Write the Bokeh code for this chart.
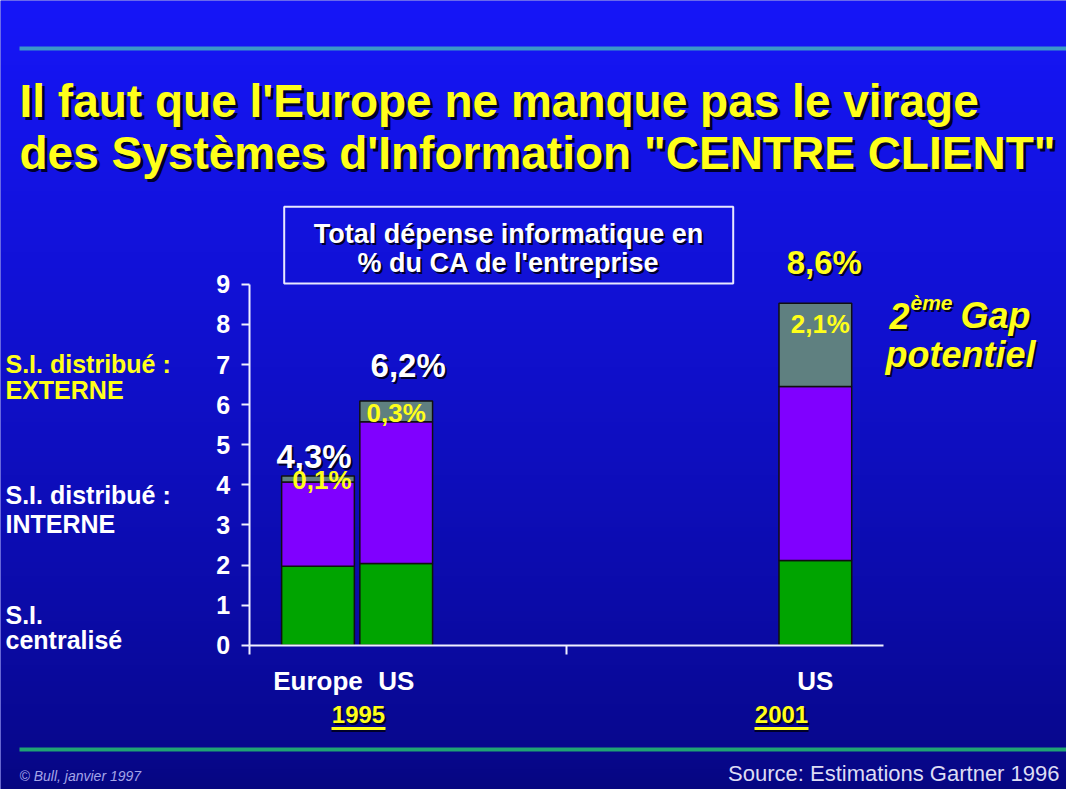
import numpy as np
from bokeh.plotting import figure
from bokeh.models import LinearAxis, FixedTicker, Range1d, ColumnDataSource
from bokeh.core.properties import value
from bokeh.embed import file_html
from bokeh.resources import INLINE

# ---------------- data ----------------
regions = ["Europe", "US", "US"]
years = ["1995", "1995", "2001"]
si_centralise = [1.97, 2.04, 2.11]
si_interne = [2.10, 3.53, 4.34]
si_externe = [0.15, 0.52, 2.08]
total_labels = ["4,3%", "6,2%", "8,6%"]
externe_labels = ["0,1%", "0,3%", "2,1%"]
y_tick_values = [0, 1, 2, 3, 4, 5, 6, 7, 8, 9]
title_lines = ["Il faut que l'Europe ne manque pas le virage",
               "des Systèmes d'Information \"CENTRE CLIENT\""]
box_lines = ["Total dépense informatique en", "% du CA de l'entreprise"]
series_labels = [("S.I. distribué  :", "EXTERNE"),
                 ("S.I. distribué :", "INTERNE"),
                 ("S.I.", "centralisé")]
year_labels = ["1995", "2001"]
gap_text = ("2", "ème", "Gap", "potentiel")
footer_left = "© Bull, janvier 1997"
footer_right = "Source: Estimations Gartner 1996"

# ---------------- layout ----------------
W, H = 1066, 789
PAGE = 8
ZERO_PX = 652.7      # page y of value 0
UNIT_PX = 40.1       # px per value unit
ORIGIN_X = 325.5     # page x of first bar slot
SLOT_PX = 78.2       # px per bar slot
GROUP_OFFSET = {"1995": 0.0, "2001": 6.36}
BAR_W = 0.93
FONT = "Liberation Sans"
YELLOW = "#ffff1a"
SHADOW = "#00002a"
BASE_CORR = 0.3      # visual baseline correction (fraction of font size)


def dx(px):
    return (px - ORIGIN_X) / SLOT_PX


def dy(py):
    return (ZERO_PX - py) / UNIT_PX


def tb(py, size):
    """data y for a text whose visual baseline should sit at page y `py`."""
    return dy(py - BASE_CORR * size)


xs = []
seen = {}
for yr in years:
    k = seen.get(yr, 0)
    xs.append(GROUP_OFFSET[yr] + k)
    seen[yr] = k + 1

top1 = list(si_centralise)
top2 = [a + b for a, b in zip(top1, si_interne)]
top3 = [a + b for a, b in zip(top2, si_externe)]

x0, x1 = dx(PAGE), dx(PAGE + W)
y0, y1 = dy(PAGE + H), dy(PAGE)

p = figure(width=W, height=H, x_range=Range1d(x0, x1), y_range=Range1d(y0, y1),
           output_backend="svg", toolbar_location=None,
           x_axis_type=None, y_axis_type=None, min_border=0,
           outline_line_color=None)
p.background_fill_color = "#1010d0"
p.border_fill_color = "#1010d0"

# background gradient
n = 400
t = np.linspace(0.0, 1.0, n) ** 0.75   # 0 bottom -> 1 top
top_c = np.array([22, 22, 248])
bot_c = np.array([6, 6, 128])
img = np.zeros((n, 1), dtype=np.uint32)
view = img.view(dtype=np.uint8).reshape((n, 1, 4))
for i in range(3):
    view[:, 0, i] = (bot_c[i] + (top_c[i] - bot_c[i]) * t).astype(np.uint8)
view[:, 0, 3] = 255
p.image_rgba(image=[img], x=x0, y=y0, dw=x1 - x0, dh=y1 - y0)


def txt(x, py, s, size, color, align="left", style="bold", shadow=None, font=FONT):
    y = tb(py, size)
    fs = f"{size}px"
    if shadow:
        p.text(x=[x], y=[y], text=[s], text_font=value(font), text_font_size=fs,
               text_font_style=style, text_color=SHADOW, text_align=align,
               text_baseline="alphabetic", x_offset=shadow, y_offset=shadow)
    p.text(x=[x], y=[y], text=[s], text_font=value(font), text_font_size=fs,
           text_font_style=style, text_color=color, text_align=align,
           text_baseline="alphabetic")


# separator lines
p.segment(x0=[dx(27)], y0=[dy(56)], x1=[dx(1078)], y1=[dy(56)],
          line_color="#3c98c8", line_width=4)
p.segment(x0=[dx(27)], y0=[dy(757)], x1=[dx(1078)], y1=[dy(757)],
          line_color="#20a274", line_width=4)

# title
txt(dx(27), 122, title_lines[0], 46, YELLOW, shadow=3)
txt(dx(27), 174, title_lines[1], 46, YELLOW, shadow=3)

# box
p.quad(left=[dx(291.7)], right=[dx(740.7)], top=[dy(214.3)], bottom=[dy(291)],
       fill_color=None, line_color="#e8e8ff", line_width=2)
txt(dx(516), 250, box_lines[0], 27, "white", align="center", shadow=2)
txt(dx(516), 279, box_lines[1], 27, "white", align="center", shadow=2)

# bars
src = ColumnDataSource(dict(x=xs, b0=[0] * len(xs), t1=top1, t2=top2, t3=top3))
p.vbar(x="x", width=BAR_W, bottom="b0", top="t1", source=src,
       fill_color="#00a400", line_color="#101010", line_width=1.5)
p.vbar(x="x", width=BAR_W, bottom="t1", top="t2", source=src,
       fill_color="#8000ff", line_color="#101010", line_width=1.5)
p.vbar(x="x", width=BAR_W, bottom="t2", top="t3", source=src,
       fill_color="#5f8080", line_color="#101010", line_width=1.5)

# axes
axis_x0, axis_x1 = dx(256.7), dx(890.7)
yax = LinearAxis(fixed_location=axis_x0, ticker=FixedTicker(ticks=y_tick_values),
                 bounds=(0, 9))
yax.axis_line_color = "#f0f0ff"
yax.axis_line_width = 2
yax.major_tick_line_color = "#f0f0ff"
yax.major_tick_line_width = 2
yax.major_tick_out = 8
yax.major_tick_in = 0
yax.minor_tick_out = 0
yax.minor_tick_in = 0
yax.major_label_text_color = "white"
yax.major_label_text_font = FONT
yax.major_label_text_font_size = "25px"
yax.major_label_text_font_style = "bold"
yax.major_label_standoff = 11
p.add_layout(yax, "left")

xax = LinearAxis(fixed_location=0,
                 ticker=FixedTicker(ticks=xs, minor_ticks=[axis_x0, (axis_x0 + axis_x1) / 2]),
                 bounds=(axis_x0, axis_x1))
xax.major_label_overrides = {float(x): r for x, r in zip(xs, regions)}
xax.axis_line_color = "#f0f0ff"
xax.axis_line_width = 2
xax.major_tick_out = 0
xax.major_tick_in = 0
xax.minor_tick_out = 9
xax.minor_tick_in = 0
xax.minor_tick_line_color = "#f0f0ff"
xax.minor_tick_line_width = 2
xax.major_label_text_color = "white"
xax.major_label_text_font = FONT
xax.major_label_text_font_size = "26px"
xax.major_label_text_font_style = "bold"
xax.major_label_standoff = 12
p.add_layout(xax, "below")

# value labels (screen px offsets relative to top of stack)
TOT_SIZE, EXT_SIZE = 33, 26
tdy = [-19, -35, -41]
edy = [4, 12, 21]
src_lab = ColumnDataSource(dict(
    x=xs, t3=top3, total=total_labels, ext=externe_labels,
    tcol=["white", "white", YELLOW],
    tdx=[-4, 12, 9], tdy=tdy,
    sdx=[-2, 14, 11], sdy=[v + 2 for v in tdy],
    edx=[4, 0, 5], edy=edy))
p.text(x="x", y="t3", text="total", source=src_lab, text_font=value(FONT),
       text_font_size=f"{TOT_SIZE}px", text_font_style="bold", text_color=SHADOW,
       text_align="center", text_baseline="alphabetic", x_offset="sdx", y_offset="sdy")
p.text(x="x", y="t3", text="total", source=src_lab, text_font=value(FONT),
       text_font_size=f"{TOT_SIZE}px", text_font_style="bold", text_color="tcol",
       text_align="center", text_baseline="alphabetic", x_offset="tdx", y_offset="tdy")
p.text(x="x", y="t3", text="ext", source=src_lab, text_font=value(FONT),
       text_font_size=f"{EXT_SIZE}px", text_font_style="bold", text_color=YELLOW,
       text_align="center", text_baseline="alphabetic", x_offset="edx", y_offset="edy")

# series labels (left)
txt(dx(13), 379, series_labels[0][0], 25, YELLOW)
txt(dx(13), 405, series_labels[0][1], 25, YELLOW)
txt(dx(13), 510, series_labels[1][0], 25, "white")
txt(dx(13), 539, series_labels[1][1], 25, "white")
txt(dx(13), 630, series_labels[2][0], 25, "white")
txt(dx(13), 655, series_labels[2][1], 25, "white")

# gap annotation
txt(dx(897), 334, gap_text[0], 36, YELLOW, style="bold italic", shadow=2)
txt(dx(918), 316, gap_text[1], 21, YELLOW, style="bold italic", shadow=2)
txt(dx(968), 334, gap_text[2], 36, YELLOW, style="bold italic", shadow=2)
txt(dx(893), 373, gap_text[3], 36, YELLOW, style="bold italic", shadow=2)

# years with underline
for label, cx in zip(year_labels, [366, 789]):
    txt(dx(cx), 729, label, 24, YELLOW, align="center", shadow=2)
    p.segment(x0=[dx(cx - 27)], y0=[dy(738)], x1=[dx(cx + 27)], y1=[dy(738)],
              line_color=SHADOW, line_width=3)
    p.segment(x0=[dx(cx - 27)], y0=[dy(736)], x1=[dx(cx + 27)], y1=[dy(736)],
              line_color=YELLOW, line_width=3)

# footer
txt(dx(27), 788, footer_left, 14, "#a4a4e8", style="italic")
txt(dx(1067), 788, footer_right, 22, "#dcdcf4", align="right", style="normal")

open("out.html", "w").write(file_html(p, INLINE))
